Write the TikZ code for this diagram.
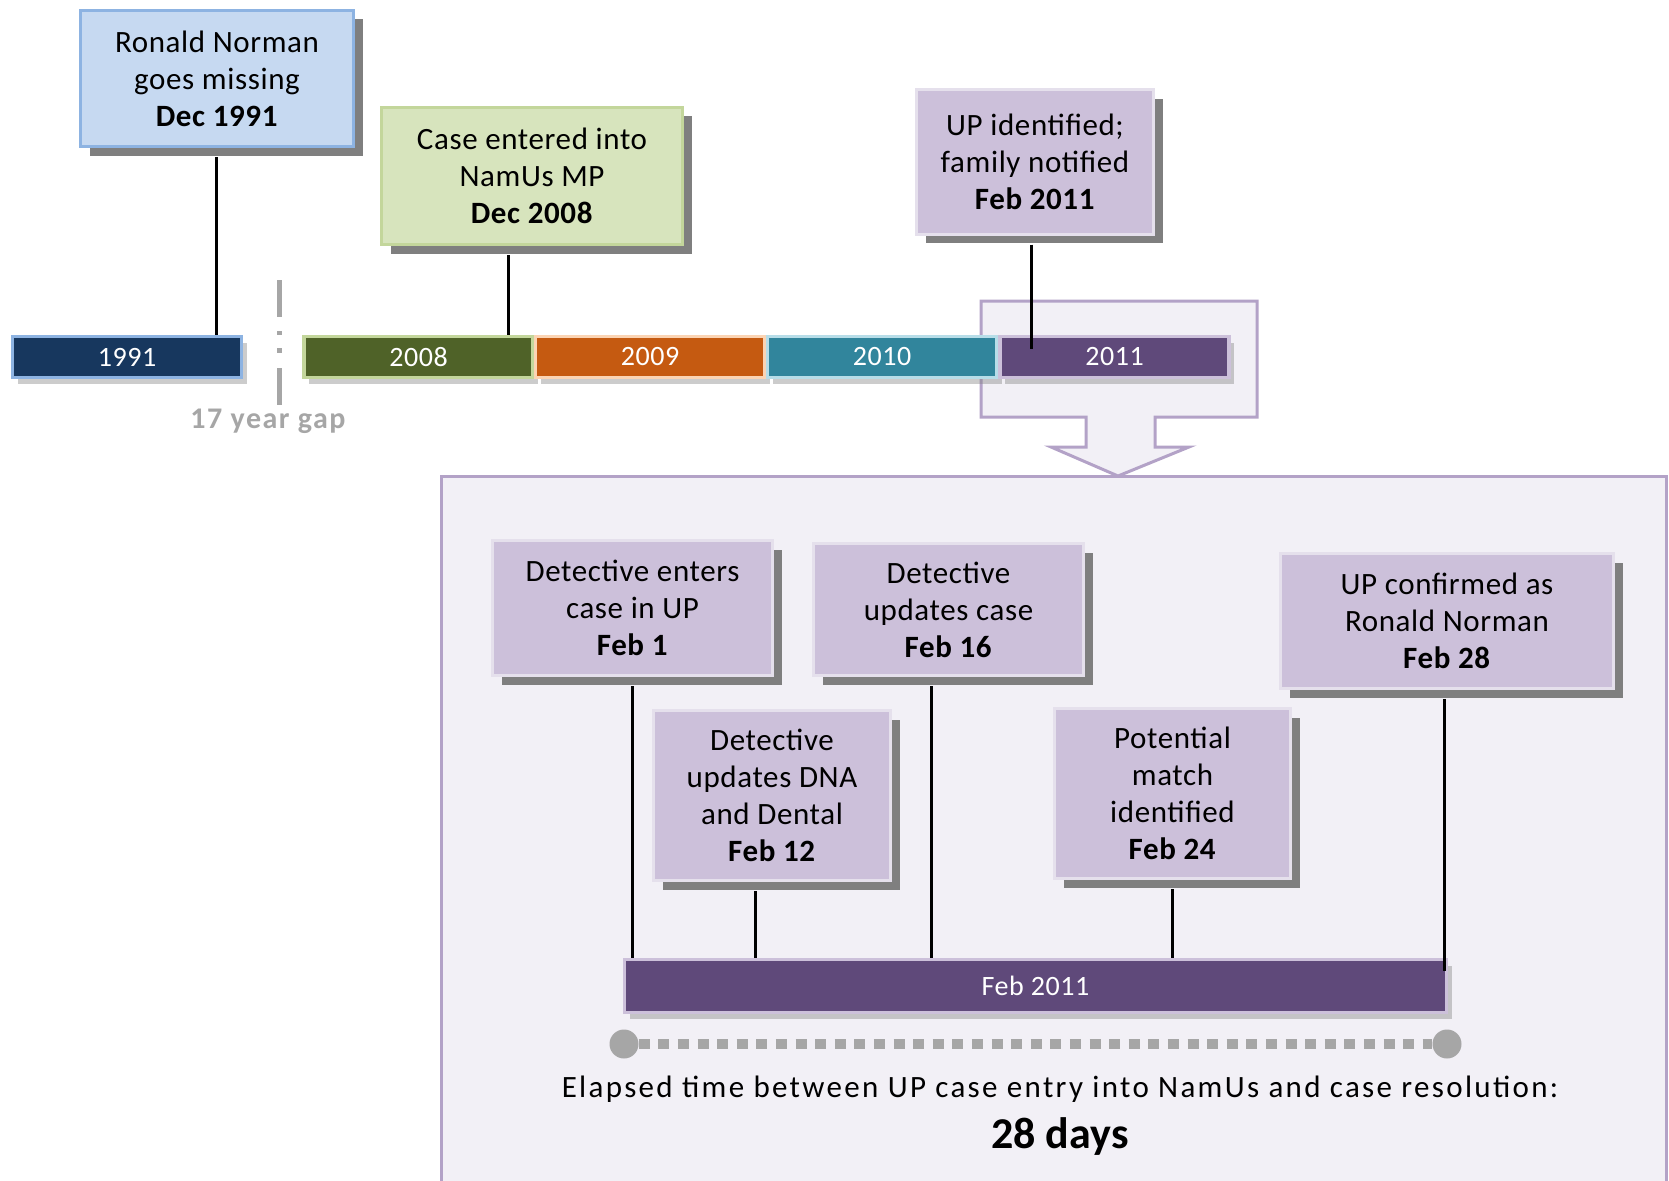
\documentclass[tikz,border=0pt]{standalone}
\usepackage{fontspec}
\setmainfont{Carlito}
\usepackage{tikz}
\usetikzlibrary{shadows,calc}

\definecolor{shadowgray}{HTML}{7F7F7F}
\definecolor{gapgray}{HTML}{A6A6A6}
\definecolor{panelfill}{HTML}{F2F0F6}
\definecolor{paneledge}{HTML}{B3A2C7}
\definecolor{bluefill}{HTML}{C6D9F1}
\definecolor{blueedge}{HTML}{8DB3E2}
\definecolor{greenfill}{HTML}{D7E4BD}
\definecolor{greenedge}{HTML}{C3D69B}
\definecolor{purpfill}{HTML}{CCC0DA}
\definecolor{purpedge}{HTML}{E5E0EC}
\definecolor{f1991}{HTML}{17375E}
\definecolor{f2008}{HTML}{4F6228}
\definecolor{f2009}{HTML}{C55A11}
\definecolor{f2010}{HTML}{31859C}
\definecolor{f2011}{HTML}{5F497A}
\definecolor{e1991}{HTML}{8DB3E2}
\definecolor{e2008}{HTML}{C3D69B}
\definecolor{e2009}{HTML}{FBD4B4}
\definecolor{e2010}{HTML}{B7DDE8}
\definecolor{e2011}{HTML}{CCC0DA}

\begin{document}
\begin{tikzpicture}[x=1pt, y=-1pt,
    evbox/.style={draw, line width=3pt, align=center, inner sep=0pt,
      font=\fontsize{31}{37}\selectfont\addfontfeature{LetterSpace=2},
      drop shadow={shadow xshift=9pt, shadow yshift=-9pt, fill=shadowgray, opacity=1}},
    yearbar/.style={draw, line width=3.5pt, minimum width=229pt, minimum height=41pt,
      inner sep=0pt, text=white, font=\fontsize{28}{30}\selectfont\addfontfeature{LetterSpace=2},
      drop shadow={shadow xshift=5pt, shadow yshift=-6pt, opacity=.4}},
    conn/.style={line width=3pt}]
  \useasboundingbox (0,0) rectangle (1669,1180);

  % zoomed-in panel and callout
  \draw[fill=panelfill, draw=paneledge, line width=3pt] (441,476) rectangle (1666,1200);
  \draw[fill=panelfill, draw=paneledge, line width=3pt]
    (981,301) -- (1257,301) -- (1257,417) -- (1155,417) -- (1155,447) -- (1189,447)
    -- (1118,476) -- (1051,447) -- (1086,447) -- (1086,417) -- (981,417) -- cycle;

  % year bars
  \foreach \yr/\cx in {1991/127, 2008/418.5, 2009/650, 2010/882, 2011/1114.5}
    {\node[yearbar, fill=f\yr, draw=e\yr] (y\yr) at (\cx,357) {\yr};}

  \draw[gapgray, line width=5pt, dash pattern=on 37pt off 14pt on 4pt off 13pt on 5pt off 15pt on 37pt]
    (279,280) -- (279,405);
  \node[text=gapgray, font=\fontsize{30}{32}\selectfont\bfseries\addfontfeature{LetterSpace=5}] (gap) at (268,421) {17 year gap};

  % top events
  \node[evbox, fill=bluefill, draw=blueedge, minimum width=273pt, minimum height=136pt]
    (missing) at (217,78.5) {Ronald Norman\\goes missing\\\textbf{Dec 1991}};
  \node[evbox, fill=greenfill, draw=greenedge, minimum width=301pt, minimum height=137pt]
    (entered) at (532,176) {Case entered into\\NamUs MP\\\textbf{Dec 2008}};
  \node[evbox, fill=purpfill, draw=purpedge, minimum width=237pt, minimum height=144pt]
    (ident) at (1035,162) {UP identified;\\family notified\\\textbf{Feb 2011}};

  \coordinate (missx) at ($(missing.south)+(-1,9)$);
  \coordinate (entx) at ($(entered.south)+(-24,9)$);
  \coordinate (identx) at ($(ident.south)+(-4,9)$);
  \draw[conn] (missx) -- (missx |- y1991.north);
  \draw[conn] (entx) -- (entx |- y2008.north);
  \draw[conn] (identx) -- ($(identx |- y2011.north)+(0,14)$);

  % February 2011
  \node[yearbar, fill=f2011, draw=e2011, minimum width=822pt, minimum height=53pt]
    (feb) at (1035.5,986) {Feb 2011};

  \node[evbox, fill=purpfill, draw=purpedge, minimum width=280pt, minimum height=135pt]
    (feb1) at (632.5,608) {Detective enters\\case in UP\\\textbf{Feb 1}};
  \node[evbox, fill=purpfill, draw=purpedge, minimum width=237pt, minimum height=170pt]
    (feb12) at (772,795.5) {Detective\\updates DNA\\and Dental\\\textbf{Feb 12}};
  \node[evbox, fill=purpfill, draw=purpedge, minimum width=270pt, minimum height=132pt]
    (feb16) at (948.5,609.5) {Detective\\updates case\\\textbf{Feb 16}};
  \node[evbox, fill=purpfill, draw=purpedge, minimum width=236pt, minimum height=170pt]
    (feb24) at (1172.5,793.5) {Potential\\match\\identified\\\textbf{Feb 24}};
  \node[evbox, fill=purpfill, draw=purpedge, minimum width=333pt, minimum height=135pt]
    (feb28) at (1447,621) {UP confirmed as\\Ronald Norman\\\textbf{Feb 28}};

  \coordinate (p1) at ($(feb1.south)+(0,9)$);
  \coordinate (p12) at ($(feb12.south)+(-17,9)$);
  \coordinate (p16) at ($(feb16.south)+(-17,9)$);
  \coordinate (p24) at ($(feb24.south)+(0,9)$);
  \coordinate (p28) at ($(feb28.south)+(-3,9)$);
  \foreach \p in {p1, p12, p16, p24}
    {\draw[conn] (\p) -- (\p |- feb.north);}
  \draw[conn] (p28) -- ($(p28 |- feb.north)+(0,13)$);

  % elapsed time
  \node[circle, fill=gapgray, minimum size=29pt, inner sep=0pt] (start) at (624,1044) {};
  \node[circle, fill=gapgray, minimum size=29pt, inner sep=0pt] (stop) at (1447,1044) {};
  \draw[gapgray, line width=10pt, dash pattern=on 11pt off 8.6pt] (start) -- (stop);
  \node[font=\fontsize{31}{37}\selectfont\addfontfeature{LetterSpace=7.5}] (elapsed) at (1060,1089)
    {Elapsed time between UP case entry into NamUs and case resolution:};
  \node[font=\fontsize{44}{48}\selectfont\bfseries] (days) at (1060,1137) {28 days};
\end{tikzpicture}
\end{document}
